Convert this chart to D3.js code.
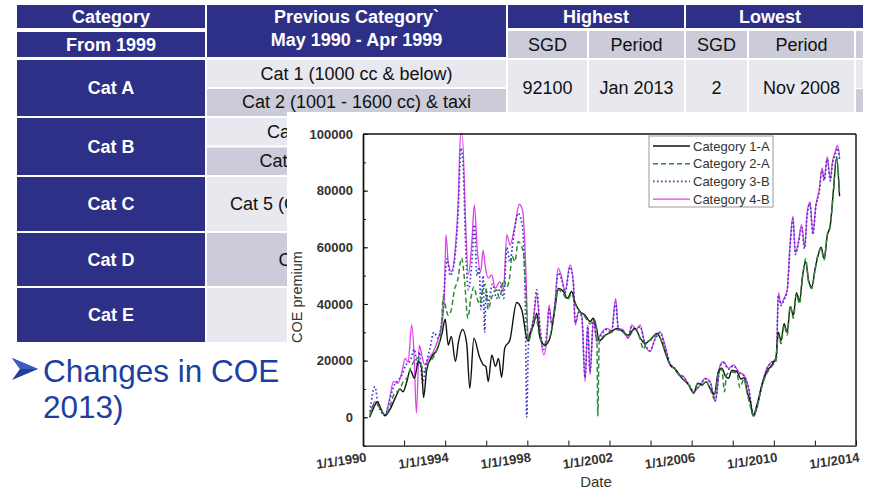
<!DOCTYPE html>
<html>
<head>
<meta charset="utf-8">
<script src="https://cdn.jsdelivr.net/npm/d3@7"></script>
<style>
  body { margin: 0; background: #fff; }
  svg { display: block; font-family: Arial, "Liberation Sans", sans-serif; }
</style>
</head>
<body>
<div id="slide"></div>
<script>
// ---- table text ----
var headTop = ["Category", "Previous Category`", "Highest", "Lowest"];
var headPrev2 = "May 1990 - Apr 1999";
var headSub = ["From 1999", "SGD", "Period", "SGD", "Period"];
var newCats = ["Cat A", "Cat B", "Cat C", "Cat D", "Cat E"];
var oldCats = [
  ["Cat 1 (1000 cc & below)", "Cat 2 (1001 - 1600 cc) & taxi"],
  ["Cat 3 (1601 - 2000 cc)", "Cat 4 (2001 cc & above)"],
  ["Cat 5 (Goods vehicles & buses)"],
  ["Cat 6 (Motorcycles)"],
  ["Cat 7 (Open)"]
];
var catARecord = ["92100", "Jan 2013", "2", "Nov 2008"];
var bulletLines = ["Changes in COE premium (May 1990 -", "2013)"];

// ---- chart data: [decimal year, premium SGD] ----
var seriesNames = ["Category 1-A", "Category 2-A", "Category 3-B", "Category 4-B"];
var yTicks = [0, 20000, 40000, 60000, 80000, 100000];
var xTickYears = [1990, 1994, 1998, 2002, 2006, 2010, 2014];

var cat1A = [
  [1990.33, 0], [1990.5, 3000], [1990.7, 5500], [1990.9, 2500], [1991.07, 500], [1991.3, 2600],
  [1991.6, 7300], [1991.8, 10000], [1991.95, 9000], [1992.15, 13000], [1992.3, 16700], [1992.5, 13800],
  [1992.7, 19700], [1992.85, 17500], [1992.95, 7000], [1993.1, 16700], [1993.35, 21400], [1993.6, 23800],
  [1993.85, 29700], [1994.0, 34600], [1994.15, 25500], [1994.3, 28500], [1994.5, 19700], [1994.65, 26700],
  [1994.85, 31000], [1995.05, 26000], [1995.2, 10200], [1995.4, 27900], [1995.67, 21400], [1995.86, 18500],
  [1995.98, 18000], [1996.1, 12600], [1996.27, 22000], [1996.45, 18000], [1996.6, 20800], [1996.75, 14100],
  [1996.9, 24400], [1997.15, 27300], [1997.48, 40500], [1997.73, 37900], [1998.02, 27000], [1998.15, 30000],
  [1998.3, 32600], [1998.46, 36700], [1998.62, 27900], [1998.86, 25500], [1999.1, 27900], [1999.35, 38500],
  [1999.5, 45500], [1999.76, 44400], [1999.95, 42000], [2000.16, 44400], [2000.33, 40300], [2000.57, 37300],
  [2000.8, 36100], [2001.06, 33800], [2001.2, 35000], [2001.33, 32600], [2001.5, 27000], [2001.8, 29000],
  [2002.1, 30200], [2002.36, 31400], [2002.6, 30500], [2002.9, 29000], [2003.25, 31400], [2003.5, 27900],
  [2003.73, 26100], [2004.06, 27900], [2004.3, 29600], [2004.5, 27500], [2004.7, 23200], [2004.95, 18500],
  [2005.2, 17000], [2005.5, 14000], [2005.85, 11500], [2006.1, 8500], [2006.3, 12000], [2006.5, 11500],
  [2006.7, 12500], [2006.9, 10200], [2007.1, 8000], [2007.3, 16100], [2007.47, 17300], [2007.65, 14500],
  [2007.8, 13800], [2007.95, 16500], [2008.2, 16100], [2008.4, 13500], [2008.55, 14000], [2008.7, 9000],
  [2008.85, 5500], [2009.0, 800], [2009.18, 4400], [2009.42, 11400], [2009.66, 16100], [2009.9, 18500],
  [2010.1, 21000], [2010.22, 30000], [2010.35, 27000], [2010.5, 33000], [2010.65, 30000], [2010.8, 39000],
  [2010.95, 36000], [2011.1, 44000], [2011.25, 41000], [2011.4, 50000], [2011.55, 55000], [2011.7, 48000],
  [2011.85, 46000], [2012.0, 52000], [2012.15, 57000], [2012.3, 60000], [2012.45, 56000], [2012.6, 64000],
  [2012.75, 68000], [2012.9, 80000], [2013.05, 91500], [2013.2, 78000]
];

var cat2A = [
  [1990.33, 500], [1990.6, 5000], [1990.85, 3000], [1991.07, 800], [1991.3, 3500], [1991.5, 8000],
  [1991.8, 10000], [1991.96, 12600], [1992.15, 14000], [1992.3, 17000], [1992.5, 20000], [1992.65, 21000],
  [1992.8, 19000], [1993.0, 16000], [1993.15, 19000], [1993.3, 20000], [1993.6, 24000], [1993.8, 30000],
  [1993.91, 42600], [1994.05, 38000], [1994.15, 36000], [1994.3, 38000], [1994.45, 45000], [1994.6, 48000],
  [1994.8, 56200], [1994.95, 48000], [1995.1, 35000], [1995.25, 42000], [1995.4, 46000], [1995.55, 42000],
  [1995.7, 40000], [1995.8, 44000], [1995.95, 47000], [1996.1, 38000], [1996.25, 42000], [1996.5, 45000],
  [1996.65, 42000], [1996.85, 48500], [1997.0, 46000], [1997.15, 50000], [1997.25, 57000], [1997.4, 55000],
  [1997.55, 62000], [1997.8, 58500], [1997.92, 45000], [1998.05, 27000], [1998.2, 30000], [1998.4, 36000],
  [1998.6, 28500], [1998.85, 26000], [1999.1, 28500], [1999.35, 39000], [1999.5, 45000], [1999.75, 43500],
  [1999.95, 41500], [2000.16, 43500], [2000.33, 40000], [2000.57, 37000], [2000.8, 35500], [2001.06, 33000],
  [2001.25, 34500], [2001.38, 31000], [2001.43, 500], [2001.5, 27000], [2001.8, 29000], [2002.1, 30000],
  [2002.36, 31000], [2002.6, 30500], [2002.9, 28500], [2003.25, 31000], [2003.5, 27500], [2003.65, 24000],
  [2003.8, 26500], [2004.06, 27500], [2004.3, 29200], [2004.5, 27500], [2004.7, 23000], [2004.95, 18500],
  [2005.2, 17000], [2005.5, 14000], [2005.85, 11500], [2006.1, 8800], [2006.3, 12000], [2006.5, 11200],
  [2006.7, 12800], [2006.9, 10000], [2007.1, 6500], [2007.3, 15500], [2007.47, 17000], [2007.6, 9000],
  [2007.7, 15000], [2007.95, 16000], [2008.2, 15500], [2008.35, 10500], [2008.55, 13500], [2008.7, 8500],
  [2008.85, 4000], [2009.0, 500], [2009.18, 4000], [2009.42, 11000], [2009.66, 15500], [2009.9, 18000],
  [2010.1, 20500], [2010.22, 29000], [2010.35, 26000], [2010.5, 32500], [2010.65, 29000], [2010.8, 39500],
  [2010.95, 35000], [2011.1, 43500], [2011.25, 40000], [2011.4, 49500], [2011.55, 56000], [2011.7, 47500],
  [2011.85, 45500], [2012.0, 51500], [2012.15, 57500], [2012.3, 59500], [2012.45, 55500], [2012.6, 64500],
  [2012.75, 67500], [2012.9, 79500], [2013.05, 92000], [2013.2, 78500]
];

var cat3B = [
  [1990.34, 2000], [1990.58, 10800], [1990.75, 4000], [1991.07, 800], [1991.3, 6000], [1991.5, 11000],
  [1991.7, 13000], [1991.9, 15000], [1992.05, 18000], [1992.3, 20000], [1992.5, 24000], [1992.65, 18000],
  [1992.75, 23000], [1992.9, 12000], [1993.05, 18000], [1993.25, 24000], [1993.45, 30000], [1993.65, 28000],
  [1993.85, 35000], [1994.0, 50000], [1994.1, 56000], [1994.25, 50000], [1994.45, 55000], [1994.62, 70000],
  [1994.77, 95000], [1994.88, 88000], [1995.0, 60000], [1995.13, 45000], [1995.3, 55000], [1995.42, 68000],
  [1995.55, 50000], [1995.65, 53000], [1995.75, 38000], [1995.85, 50000], [1995.92, 30000], [1996.0, 45000],
  [1996.1, 40000], [1996.3, 47000], [1996.5, 42000], [1996.7, 46000], [1996.85, 42000], [1997.0, 60000],
  [1997.15, 55000], [1997.35, 65000], [1997.55, 72000], [1997.75, 68000], [1997.9, 40000], [1997.97, 0],
  [1998.05, 25000], [1998.3, 35000], [1998.46, 45000], [1998.62, 32000], [1998.8, 24000], [1998.95, 30000],
  [1999.06, 38000], [1999.19, 33000], [1999.35, 40000], [1999.5, 51000], [1999.68, 48500], [1999.84, 44000],
  [2000.08, 53000], [2000.24, 47500], [2000.33, 33500], [2000.5, 37000], [2000.65, 35500], [2000.81, 14000],
  [2000.94, 32000], [2001.05, 16000], [2001.22, 34500], [2001.38, 27000], [2001.54, 28500], [2001.87, 31000],
  [2002.1, 30000], [2002.3, 40500], [2002.43, 31000], [2002.65, 30500], [2002.92, 28000], [2003.08, 32000],
  [2003.3, 30500], [2003.49, 32000], [2003.73, 26000], [2003.98, 23500], [2004.22, 27500], [2004.46, 29800],
  [2004.7, 25000], [2004.95, 19000], [2005.16, 17500], [2005.36, 15200], [2005.6, 14200], [2005.84, 11800],
  [2006.1, 9300], [2006.42, 11600], [2006.66, 13500], [2006.9, 12300], [2007.15, 6000], [2007.39, 18000],
  [2007.55, 19200], [2007.8, 17000], [2008.04, 18200], [2008.28, 15800], [2008.53, 14800], [2008.77, 10500],
  [2009.01, 500], [2009.18, 3500], [2009.42, 11200], [2009.66, 17000], [2009.9, 19400], [2010.12, 20000],
  [2010.22, 43000], [2010.35, 39500], [2010.5, 41500], [2010.65, 44500], [2010.8, 61000], [2010.93, 70000],
  [2011.05, 57500], [2011.2, 61500], [2011.35, 67000], [2011.5, 59500], [2011.62, 71000], [2011.76, 75500],
  [2011.9, 64500], [2012.05, 74500], [2012.2, 79000], [2012.35, 87000], [2012.45, 83500], [2012.6, 91000],
  [2012.75, 83500], [2012.85, 89000], [2013.0, 93000], [2013.1, 95000], [2013.2, 91000]
];

var cat4B = [
  [1990.34, 800], [1990.58, 5500], [1990.83, 3200], [1991.07, 800], [1991.3, 6700], [1991.48, 12600],
  [1991.7, 12000], [1991.9, 16100], [1992.05, 20800], [1992.2, 19500], [1992.37, 32600], [1992.48, 23200],
  [1992.6, 1500], [1992.74, 25500], [1992.86, 22000], [1993.0, 18500], [1993.2, 20800], [1993.43, 23200],
  [1993.67, 27900], [1993.83, 32600], [1993.95, 40800], [1994.04, 64400], [1994.16, 53800], [1994.32, 51400],
  [1994.48, 58500], [1994.64, 77300], [1994.75, 100000], [1994.83, 100000], [1995.0, 67900], [1995.13, 50300],
  [1995.3, 62000], [1995.42, 75000], [1995.57, 58500], [1995.73, 51400], [1995.85, 59000], [1995.94, 53800],
  [1996.1, 49100], [1996.27, 50300], [1996.43, 45500], [1996.67, 47900], [1996.83, 44400], [1997.0, 64400],
  [1997.16, 60800], [1997.4, 67900], [1997.61, 75200], [1997.78, 72600], [1997.92, 53800], [1998.05, 26700],
  [1998.3, 35000], [1998.46, 43200], [1998.62, 30200], [1998.8, 22000], [1998.95, 27900], [1999.06, 39700],
  [1999.19, 32600], [1999.35, 40800], [1999.5, 52600], [1999.68, 49100], [1999.84, 44400], [2000.08, 53800],
  [2000.24, 47900], [2000.33, 32600], [2000.5, 37300], [2000.65, 36000], [2000.81, 12600], [2000.94, 32600],
  [2001.05, 15000], [2001.22, 35000], [2001.38, 26700], [2001.54, 29000], [2001.87, 31400], [2002.1, 30500],
  [2002.3, 42000], [2002.43, 31400], [2002.65, 31000], [2002.92, 27900], [2003.08, 32600], [2003.3, 31000],
  [2003.49, 32600], [2003.73, 25500], [2003.98, 23200], [2004.22, 27900], [2004.46, 30200], [2004.7, 25500],
  [2004.95, 18500], [2005.16, 17300], [2005.36, 15000], [2005.6, 14500], [2005.84, 11400], [2006.1, 9000],
  [2006.42, 11400], [2006.66, 13800], [2006.9, 12600], [2007.15, 5500], [2007.39, 18500], [2007.55, 19600],
  [2007.8, 17300], [2008.04, 18500], [2008.28, 16100], [2008.53, 15000], [2008.77, 10200], [2009.01, 200],
  [2009.18, 3200], [2009.42, 11400], [2009.66, 17300], [2009.9, 19600], [2010.12, 20200], [2010.22, 44000],
  [2010.35, 40000], [2010.5, 42000], [2010.65, 45000], [2010.8, 62000], [2010.93, 71000], [2011.05, 58000],
  [2011.2, 62000], [2011.35, 68000], [2011.5, 60000], [2011.62, 72000], [2011.76, 76000], [2011.9, 65000],
  [2012.05, 75000], [2012.2, 80000], [2012.35, 88000], [2012.45, 84000], [2012.6, 92000], [2012.75, 84000],
  [2012.85, 90000], [2013.0, 94000], [2013.1, 96000], [2013.2, 92000]
];

var W = 874, H = 491;
var navy = "#2e3087", light = "#e8e8ef", grey = "#cbcbd9";
// the chart picture is pasted over the slide from this corner
var padX = 287, padY = 112;

var svg = d3.select("#slide").append("svg").attr("width", W).attr("height", H);

// slide area not covered by the pasted chart
var slideClip = svg.append("clipPath").attr("id", "slideClip");
slideClip.append("rect").attr("x", 0).attr("y", 0).attr("width", W).attr("height", padY);
slideClip.append("rect").attr("x", 0).attr("y", padY).attr("width", padX).attr("height", H - padY);

// texts that run under the pasted chart keep only the characters that start before it
function trimHidden(sel) {
  sel.each(function () {
    var node = this, size = +node.getAttribute("font-size");
    if (+node.getAttribute("y") - size * 0.75 < padY) return;
    var n = node.getNumberOfChars();
    if (!n) return;
    var x0 = node.getStartPositionOfChar(0).x, keep = 0;
    while (keep < n && node.getStartPositionOfChar(keep).x < padX) keep++;
    if (keep === 0) { node.remove(); return; }
    if (keep < n) {
      d3.select(node).attr("text-anchor", "start").attr("x", x0)
        .text(node.textContent.slice(0, keep));
    }
  });
}

/* ---------- table ---------- */
var tbl = svg.append("g").attr("clip-path", "url(#slideClip)");
var cols = [[17, 205], [207, 506], [508, 587], [589, 684], [686, 747], [749, 854], [856, 863]];
var rows = [[60, 116], [118, 175], [177, 231], [233, 286], [288, 342]];

function cell(x0, x1, y0, y1, fill) {
  tbl.append("rect").attr("x", x0).attr("y", y0).attr("width", x1 - x0).attr("height", y1 - y0).attr("fill", fill);
}
function label(txt, x, y, bold, color) {
  tbl.append("text").attr("x", x).attr("y", y).attr("text-anchor", "middle")
    .attr("font-size", 18).attr("font-weight", bold ? "bold" : "normal")
    .attr("fill", color).text(txt);
}
var mid = function (c) { return (c[0] + c[1]) / 2; };

// header
cell(cols[0][0], cols[0][1], 5, 28, navy);
cell(cols[0][0], cols[0][1], 32, 57, navy);
cell(cols[1][0], cols[1][1], 5, 57, navy);
cell(cols[2][0], cols[3][1], 5, 28, navy);
cell(cols[4][0], cols[6][1], 5, 28, navy);
for (var c = 2; c < 7; c++) cell(cols[c][0], cols[c][1], 31, 58, grey);
label(headTop[0], mid(cols[0]), 23, true, "#fff");
label(headSub[0], mid(cols[0]), 51, true, "#fff");
label(headTop[1], mid(cols[1]), 23, true, "#fff");
label(headPrev2, mid(cols[1]), 46, true, "#fff");
label(headTop[2], (cols[2][0] + cols[3][1]) / 2, 23, true, "#fff");
label(headTop[3], (cols[4][0] + cols[5][1]) / 2, 23, true, "#fff");
headSub.slice(1).forEach(function (t, i) { label(t, mid(cols[i + 2]), 51, false, "#111"); });

// body rows
newCats.forEach(function (name, i) {
  var r = rows[i];
  cell(cols[0][0], cols[0][1], r[0], r[1], navy);
  label(name, mid(cols[0]), (r[0] + r[1]) / 2 + 6, true, "#fff");
  var subs = oldCats[i];
  if (subs.length === 2) {
    var m = (r[0] + r[1]) / 2;
    cell(cols[1][0], cols[1][1], r[0], m - 1, light);
    cell(cols[1][0], cols[1][1], m + 1, r[1], grey);
    label(subs[0], mid(cols[1]), (r[0] + m) / 2 + 6, false, "#111");
    label(subs[1], mid(cols[1]), (m + r[1]) / 2 + 6, false, "#111");
  } else {
    cell(cols[1][0], cols[1][1], r[0], r[1], i === 3 ? grey : light);
    label(subs[0], mid(cols[1]), (r[0] + r[1]) / 2 + 6, false, "#111");
  }
  for (var c = 2; c < 6; c++) cell(cols[c][0], cols[c][1], r[0], r[1], light);
  cell(cols[6][0], cols[6][1], r[0], (r[0] + r[1]) / 2, light);
  cell(cols[6][0], cols[6][1], (r[0] + r[1]) / 2 + 1, r[1], grey);
});
catARecord.forEach(function (t, i) { label(t, mid(cols[i + 2]), 94, false, "#111"); });
trimHidden(tbl.selectAll("text"));

// bullet (arrowhead) and text
var blue = "#1f3f9f";
var bullet = svg.append("g").attr("clip-path", "url(#slideClip)");
bullet.append("path").attr("d", "M12,358 L38,369 L12,380 L20,369 Z").attr("fill", blue);
bullet.append("path").attr("d", "M12,358 L38,369 L20,369 Z").attr("fill", "#3c5cc0");
bulletLines.forEach(function (t, i) {
  bullet.append("text").attr("x", 43).attr("y", 382 + i * 36).attr("font-size", 31.5)
    .attr("fill", blue).text(t);
});
trimHidden(bullet.selectAll("text"));

/* ---------- chart (pasted over the slide) ---------- */
svg.append("rect").attr("x", padX).attr("y", padY).attr("width", W - padX).attr("height", H - padY).attr("fill", "#fff");

var toDate = function (t) {
  var yr = Math.floor(t), a = new Date(yr, 0, 1), b = new Date(yr + 1, 0, 1);
  return new Date(+a + (t - yr) * (b - a));
};

var x = d3.scaleTime().domain([new Date(1990, 0, 1), new Date(2014, 0, 1)]).range([363, 856]);
var y = d3.scaleLinear().domain([-10000, 100000]).range([445.6, 134]);

var chart = svg.append("g");
chart.append("clipPath").attr("id", "plot").append("rect")
  .attr("x", 363).attr("y", 133).attr("width", 493).attr("height", 313);

var styles = [
  { data: cat4B, color: "#e040e8", dash: null, w: 1.3 },
  { data: cat3B, color: "#3b3bc4", dash: "1.6,2.4", w: 1.7 },
  { data: cat1A, color: "#111", dash: null, w: 1.4 },
  { data: cat2A, color: "#2f8a36", dash: "5,3", w: 1.5 }
];
var line = d3.line().curve(d3.curveMonotoneX)
  .x(function (d) { return x(toDate(d[0])); })
  .y(function (d) { return y(d[1]); });

chart.append("g").attr("clip-path", "url(#plot)").selectAll("path")
  .data(styles).enter().append("path")
  .attr("d", function (s) { return line(s.data); })
  .attr("fill", "none")
  .attr("stroke", function (s) { return s.color; })
  .attr("stroke-width", function (s) { return s.w; })
  .attr("stroke-dasharray", function (s) { return s.dash; });

// axes
var axisStyle = function (g) {
  g.selectAll("text").attr("font-size", 13).attr("fill", "#333").attr("font-weight", "bold");
  g.selectAll("line").attr("stroke", "#111");
  g.select(".domain").attr("stroke", "#111").attr("stroke-width", 1.4);
};

// minor y ticks (no labels)
chart.append("g").attr("transform", "translate(363,0)")
  .call(d3.axisLeft(y).tickValues(d3.range(-10000, 100001, 10000)).tickSize(-3).tickSizeOuter(0))
  .call(axisStyle)
  .call(function (g) { g.selectAll("text").remove(); });
chart.append("g").attr("transform", "translate(363,0)")
  .call(d3.axisLeft(y).tickValues(yTicks).tickSize(-5).tickPadding(10).tickSizeOuter(0).tickFormat(d3.format("d")))
  .call(axisStyle);

var xAxis = chart.append("g").attr("transform", "translate(0,445.6)")
  .call(d3.axisBottom(x).ticks(d3.timeYear.every(2)).tickSize(-5).tickSizeOuter(0))
  .call(axisStyle)
  .call(function (g) { g.selectAll(".tick text").remove(); });
xAxis.selectAll(".xlab").data(xTickYears).enter().append("text")
  .attr("class", "xlab")
  .attr("transform", function (d) { return "translate(" + (x(new Date(d, 0, 1)) + 4) + ",16) rotate(-8)"; })
  .attr("text-anchor", "end").attr("font-size", 13).attr("font-weight", "bold").attr("fill", "#333")
  .text(function (d) { return "1/1/" + d; });

// frame top / right
chart.append("line").attr("x1", 363).attr("x2", 856).attr("y1", 134).attr("y2", 134).attr("stroke", "#111").attr("stroke-width", 1.4);
chart.append("line").attr("x1", 856).attr("x2", 856).attr("y1", 134).attr("y2", 445.6).attr("stroke", "#111").attr("stroke-width", 1.4);

chart.append("text").attr("transform", "translate(302,297) rotate(-90)").attr("text-anchor", "middle")
  .attr("font-size", 14.5).attr("fill", "#333").text("COE premium");
chart.append("text").attr("x", 596).attr("y", 487).attr("text-anchor", "middle")
  .attr("font-size", 15).attr("fill", "#333").text("Date");

// legend
var leg = chart.append("g");
leg.append("rect").attr("x", 649).attr("y", 136).attr("width", 124).attr("height", 71)
  .attr("fill", "#fff").attr("stroke", "#999");
var legOrder = [styles[2], styles[3], styles[1], styles[0]];
seriesNames.forEach(function (n, i) {
  var s = legOrder[i], yy = 146 + i * 17.7;
  leg.append("line").attr("x1", 653).attr("x2", 690).attr("y1", yy).attr("y2", yy)
    .attr("stroke", s.color).attr("stroke-width", s.w).attr("stroke-dasharray", s.dash);
  leg.append("text").attr("x", 693).attr("y", yy + 4.5).attr("font-size", 13).attr("fill", "#333").text(n);
});
</script>
</body>
</html>
